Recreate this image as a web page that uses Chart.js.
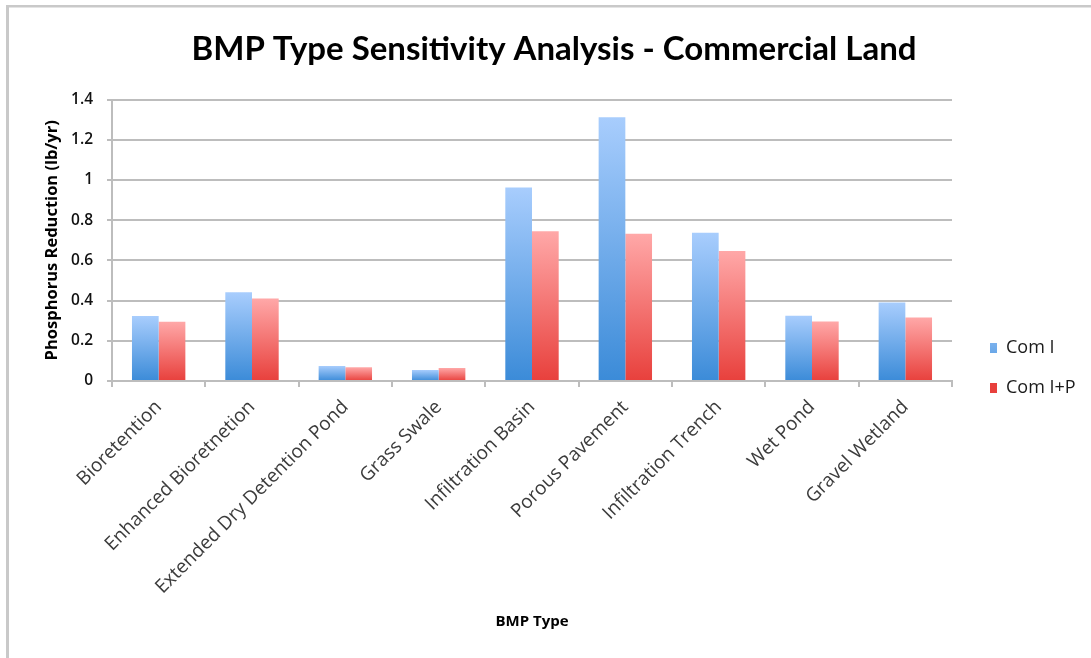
<!DOCTYPE html>
<html>
<head>
<meta charset="utf-8">
<title>BMP Type Sensitivity Analysis - Commercial Land</title>
<script src="https://cdn.jsdelivr.net/npm/chart.js@4.4.1/dist/chart.umd.min.js"></script>
<style>
  html, body { margin: 0; padding: 0; background: #ffffff; }
  #wrap { width: 1091px; height: 658px; position: relative; }
</style>
</head>
<body>
<div id="wrap"><canvas id="chart" width="1091" height="658"></canvas></div>
<script>
// BMP categories along the x axis
const categories = [
  'Bioretention',
  'Enhanced Bioretnetion',
  'Extended Dry Detention Pond',
  'Grass Swale',
  'Infiltration Basin',
  'Porous Pavement',
  'Infiltration Trench',
  'Wet Pond',
  'Gravel Wetland'
];

// Phosphorus reduction (lb/yr) per scenario
const seriesNames = ['Com I', 'Com I+P'];
const comI  = [0.323, 0.441, 0.075, 0.055, 0.963, 1.312, 0.737, 0.325, 0.391];
const comIP = [0.295, 0.411, 0.068, 0.065, 0.745, 0.733, 0.647, 0.296, 0.316];

// Value axis ticks
const yTicks = [0, 0.2, 0.4, 0.6, 0.8, 1, 1.2, 1.4];

const SANS = '"Open Sans", Lato, sans-serif';
Chart.defaults.font.family = SANS;

// Vertical fill per bar: light at the top, saturated at the base
function barFill(light, dark, flat) {
  return (c) => {
    if (c.type !== 'data') return flat;
    const chart = c.chart;
    const y = chart.scales && chart.scales.y;
    if (!chart.chartArea || !y) return flat;
    const top = y.getPixelForValue(c.raw);
    const base = y.getPixelForValue(0);
    if (!isFinite(top) || !isFinite(base) || top === base) return flat;
    const g = chart.ctx.createLinearGradient(0, top, 0, base);
    g.addColorStop(0, light);
    g.addColorStop(1, dark);
    return g;
  };
}

// White page with a thin grey frame on the top and left edges
const framePlugin = {
  id: 'frame',
  beforeDraw(chart) {
    const ctx = chart.ctx;
    ctx.save();
    ctx.fillStyle = '#ffffff';
    ctx.fillRect(0, 0, chart.width, chart.height);
    ctx.fillStyle = '#c9c9c9';
    ctx.fillRect(6, 5, chart.width - 6, 2.5);
    ctx.fillRect(6, 5, 3, chart.height - 5);
    ctx.restore();
  }
};

// Legend sits in a fixed-width column to the right of the plot
const legendPlacement = {
  id: 'legendPlacement',
  afterInit(chart) {
    const lg = chart.legend;
    if (!lg) return;
    const fit = lg.fit.bind(lg);
    lg.fit = function () { fit(); this.width = 139; };
  },
  afterLayout(chart) {
    const lg = chart.legend;
    if (!lg) return;
    lg.left = 968;
    lg.right = 1091;
    lg.top = 317;
    lg.bottom = 460;
  }
};

new Chart(document.getElementById('chart'), {
  type: 'bar',
  data: {
    labels: categories,
    datasets: [
      {
        label: seriesNames[0],
        data: comI,
        backgroundColor: barFill('#a8cdfd', '#3b8bd8', '#5f9fe6'),
        borderWidth: 0,
        barPercentage: 1,
        categoryPercentage: 0.572
      },
      {
        label: seriesNames[1],
        data: comIP,
        backgroundColor: barFill('#ffa8a8', '#e8403c', '#f26b6b'),
        borderWidth: 0,
        barPercentage: 1,
        categoryPercentage: 0.572
      }
    ]
  },
  options: {
    responsive: false,
    animation: false,
    devicePixelRatio: 1,
    layout: { padding: { left: 17, top: 5, right: 0, bottom: 0 } },
    plugins: {
      title: {
        display: true,
        text: 'BMP Type Sensitivity Analysis - Commercial Land',
        color: '#000000',
        font: { family: 'Lato, sans-serif', size: 33, weight: 'bold' },
        padding: { top: 25, bottom: 30 }
      },
      legend: {
        position: 'right',
        align: 'start',
        labels: {
          boxWidth: 7,
          boxHeight: 10,
          padding: 22,
          color: '#1a1a1a',
          font: { size: 18 }
        }
      },
      tooltip: { enabled: false }
    },
    scales: {
      x: {
        afterFit(scale) { scale.height = 277; },
        grid: {
          offset: true,
          drawOnChartArea: false,
          drawTicks: true,
          tickLength: 6,
          color: '#bdbdbd',
          lineWidth: 2
        },
        border: { display: true, color: '#bdbdbd', width: 2 },
        ticks: {
          autoSkip: false,
          maxRotation: 45,
          minRotation: 45,
          padding: 9,
          color: '#3c3c3c',
          font: { size: 19 }
        },
        title: {
          display: true,
          text: 'BMP Type',
          color: '#000000',
          font: { size: 15, weight: 'bold' },
          padding: { top: 0, bottom: 27 }
        }
      },
      y: {
        min: yTicks[0],
        max: yTicks[yTicks.length - 1],
        afterFit(scale) { scale.width = 95; },
        afterBuildTicks(scale) { scale.ticks = yTicks.map(v => ({ value: v })); },
        grid: {
          color: '#bdbdbd',
          lineWidth: 2,
          tickLength: 5
        },
        border: { display: true, color: '#bdbdbd', width: 2 },
        ticks: {
          padding: 14,
          color: '#111111',
          font: { size: 15.5, weight: '600' },
          callback: (v) => String(+(+v).toFixed(1))
        },
        title: {
          display: true,
          text: 'Phosphorus Reduction (lb/yr)',
          color: '#000000',
          font: { size: 16.5, weight: 'bold' },
          padding: { top: 25, bottom: 0 }
        }
      }
    }
  },
  plugins: [framePlugin, legendPlacement]
});
</script>
</body>
</html>
